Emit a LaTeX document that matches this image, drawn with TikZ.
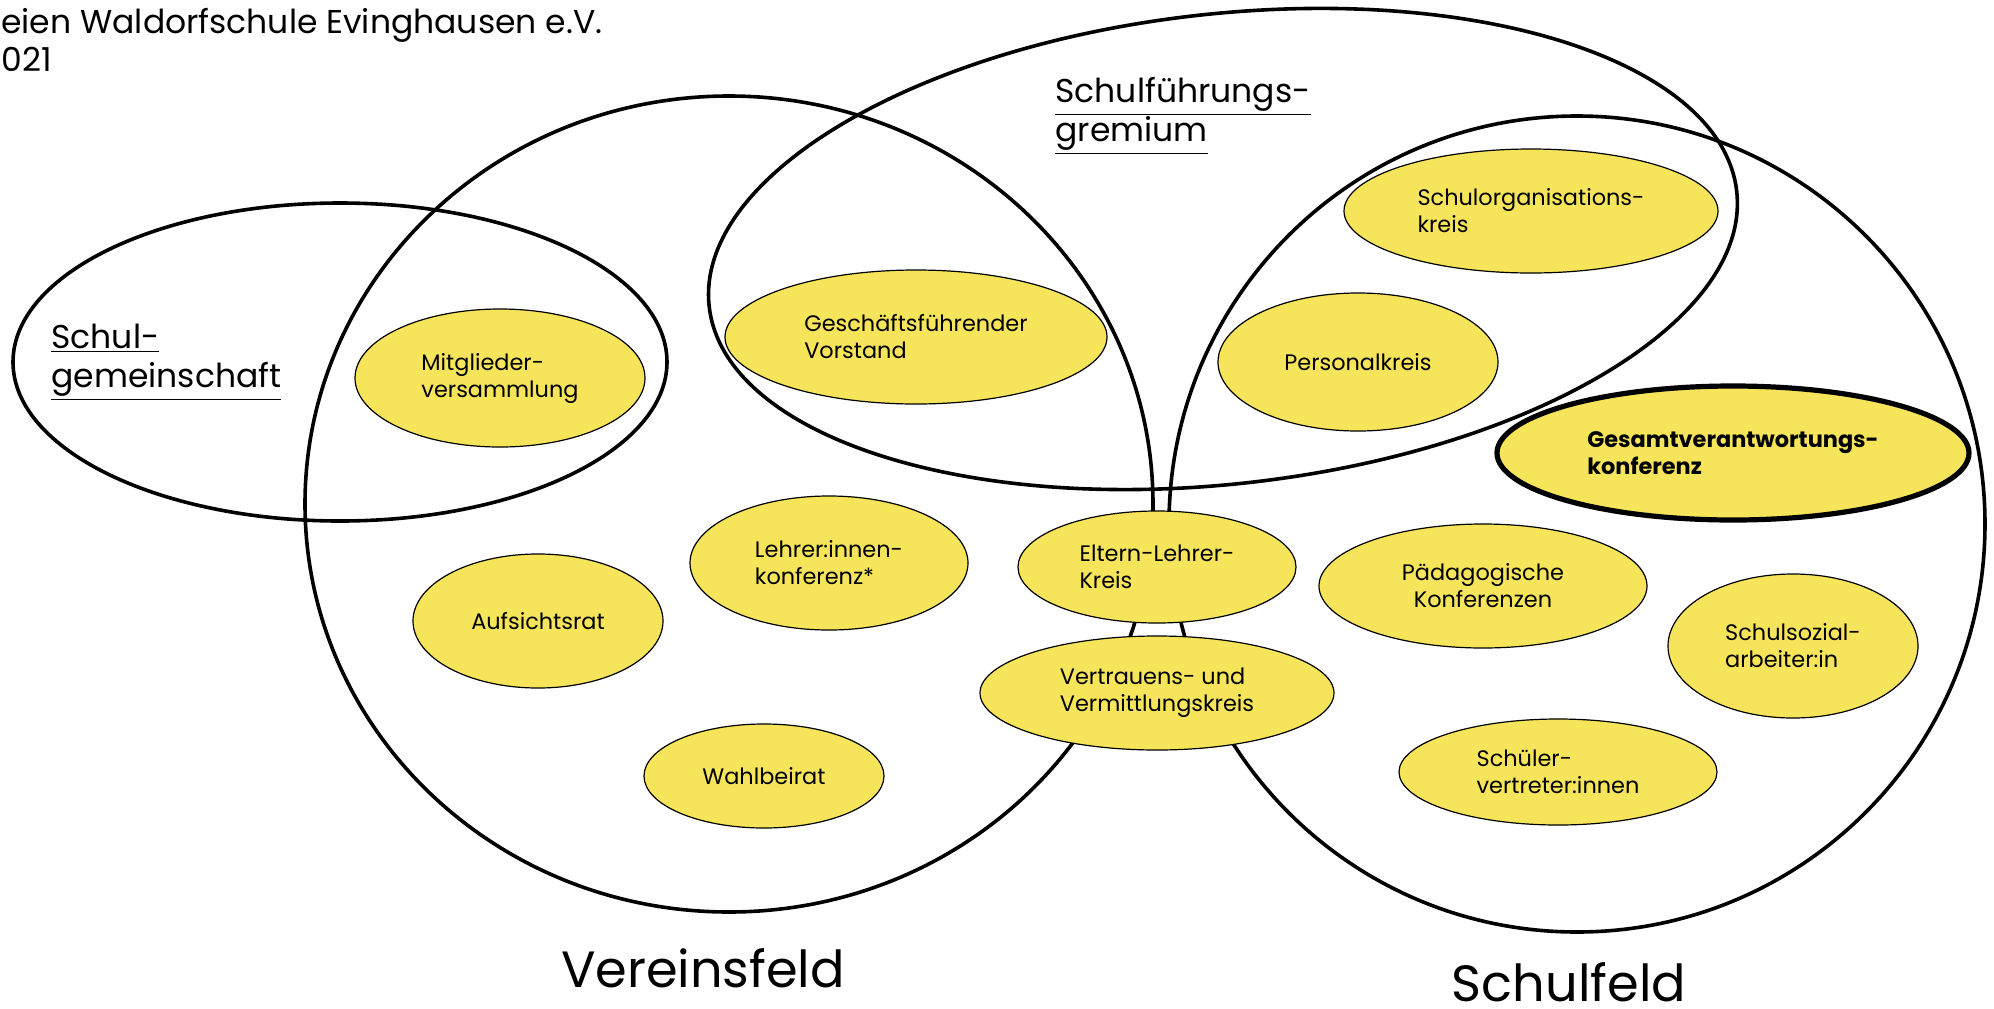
\documentclass[tikz,border=0pt]{standalone}
\usepackage{fontspec}
\setmainfont{Poppins}
\usetikzlibrary{shapes.geometric}
\definecolor{gelb}{HTML}{F6E55B}
\tikzset{
	feld/.style={line width=1.8pt},
	gremium/.style={ellipse, draw, line width=0.6pt, fill=gelb, inner sep=0pt, align=left,
		font=\fontsize{11.2}{13.5}\selectfont},
	bereich/.style={anchor=west, align=left, inner sep=0pt, font=\fontsize{16.5}{19.5}\selectfont},
	feldname/.style={anchor=base, inner sep=0pt, font=\fontsize{25.5}{30}\selectfont}
}

\begin{document}
\begin{tikzpicture}[x=0.5pt, y=-0.5pt]
		\useasboundingbox (0,0) rectangle (1994,1008);
		\coordinate (SG) at (340,362);		% Schulgemeinschaft
		\coordinate (VF) at (729,504);		% Vereinsfeld
		\coordinate (SFG) at (1223,249);	% Schulfuehrungsgremium
		\coordinate (SF) at (1577,524);		% Schulfeld

		% the fields
		\draw[feld] (SG) ellipse [x radius=327, y radius=159];
		\draw[feld] (VF) ellipse [x radius=424, y radius=408];
		\draw[feld, rotate around={6.4:(SFG)}] (SFG) ellipse [x radius=517, y radius=235];
		\draw[feld] (SF) ellipse [x radius=408, y radius=408];

		\node[anchor=north west, align=left, inner sep=0pt, font=\fontsize{16.5}{19}\selectfont] (titel) at (1,8)
			{eien Waldorfschule Evinghausen e.V.\\021};
		\node[bereich] (sgname) at (51,362) {\underline{Schul-}\\\underline{gemeinschaft}};
		\node[bereich] (sfgname) at (1055,116) {\underline{Schulführungs-}\\\underline{gremium}};
		\node[feldname] (vfname) at (703,987) {Vereinsfeld};
		\node[feldname] (sfname) at (1569,1001) {Schulfeld};

		% the bodies
		\node[gremium, minimum width=145pt, minimum height=69pt] (mv) at (500,378) {Mitglieder-\\versammlung};
		\node[gremium, minimum width=191pt, minimum height=67pt] (gv) at (916,337) {Geschäftsführender\\Vorstand};
		\node[gremium, minimum width=187pt, minimum height=62pt] (sok) at (1531,211) {Schulorganisations-\\kreis};
		\node[gremium, minimum width=140pt, minimum height=69pt] (pk) at (1358,362) {Personalkreis};
		\node[gremium, line width=2.6pt, font={\fontsize{11.2}{13.5}\selectfont\bfseries},
			minimum width=236pt, minimum height=67pt] (gvk) at (1733,453) {Gesamtverantwortungs-\\konferenz};
		\node[gremium, minimum width=125pt, minimum height=67pt] (ar) at (538,621) {Aufsichtsrat};
		\node[gremium, minimum width=139pt, minimum height=67pt] (lk) at (829,563) {Lehrer:innen-\\konferenz*};
		\node[gremium, minimum width=139pt, minimum height=56pt] (elk) at (1157,567) {Eltern-Lehrer-\\Kreis};
		\node[gremium, align=center, minimum width=164pt, minimum height=62pt] (pkf) at (1483,586) {Pädagogische\\Konferenzen};
		\node[gremium, minimum width=125pt, minimum height=72pt] (ssa) at (1793,646) {Schulsozial-\\arbeiter:in};
		\node[gremium, minimum width=177pt, minimum height=57pt] (vvk) at (1157,693) {Vertrauens- und\\Vermittlungskreis};
		\node[gremium, minimum width=120pt, minimum height=52pt] (wb) at (764,776) {Wahlbeirat};
		\node[gremium, minimum width=159pt, minimum height=53pt] (sv) at (1558,772) {Schüler-\\vertreter:innen};

	\end{tikzpicture}
\end{document}
